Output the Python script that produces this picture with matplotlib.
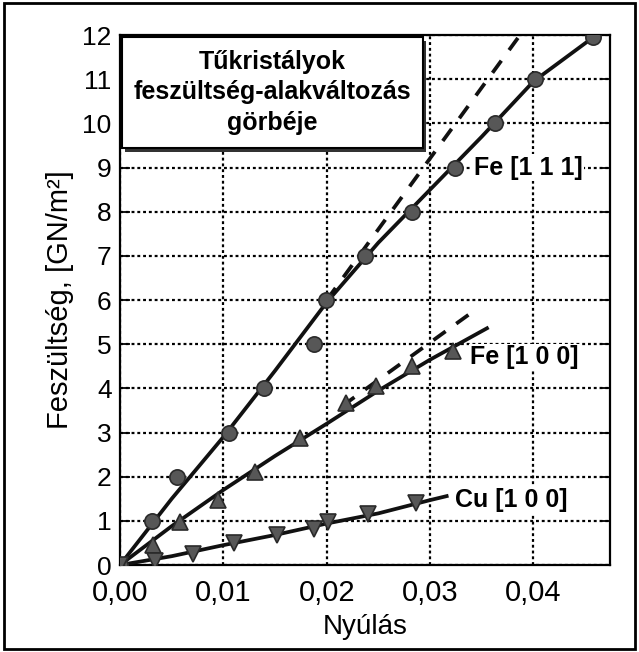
# -*- coding: utf-8 -*-
import matplotlib
matplotlib.use('Agg')
import matplotlib.pyplot as plt
from matplotlib.patches import Rectangle
from matplotlib.ticker import FuncFormatter

plt.rcParams['font.family'] = ['Liberation Sans', 'DejaVu Sans']

# Fe [1 1 1] - meresi pontok
fe111_x = [0, 0.0031, 0.0055, 0.0105, 0.0139, 0.0188, 0.0199, 0.0237, 0.0282, 0.0324, 0.0363, 0.0401, 0.0458]
fe111_y = [0, 1, 2, 3, 4, 5, 6, 7, 8, 9, 10, 11, 11.95]
# Fe [1 1 1] - illesztett gorbe es rugalmas egyenes
fe111_line_x = [0, 0.005, 0.01, 0.015, 0.02, 0.025, 0.03, 0.035, 0.04, 0.0455]
fe111_line_y = [0, 1.5, 2.9, 4.4, 5.95, 7.3, 8.5, 9.7, 10.95, 11.9]
fe111_dash_x = [0.020, 0.0387]
fe111_dash_y = [6.0, 12.0]

# Fe [1 0 0]
fe100_x = [0, 0.0032, 0.0058, 0.0095, 0.0131, 0.0174, 0.0219, 0.0248, 0.0282, 0.0322]
fe100_y = [0, 0.45, 0.98, 1.47, 2.11, 2.87, 3.66, 4.05, 4.5, 4.85]
fe100_line_x = [0, 0.005, 0.01, 0.015, 0.02, 0.025, 0.03, 0.0355]
fe100_line_y = [0, 0.88, 1.7, 2.47, 3.2, 3.95, 4.65, 5.36]
fe100_dash_x = [0.0215, 0.0338]
fe100_dash_y = [3.6, 5.68]

# Cu [1 0 0]
cu100_x = [0, 0.0034, 0.0071, 0.011, 0.0152, 0.0188, 0.0201, 0.024, 0.0286]
cu100_y = [0, 0.08, 0.26, 0.49, 0.68, 0.81, 0.98, 1.15, 1.40]
cu100_line_x = [0, 0.005, 0.01, 0.015, 0.02, 0.025, 0.03, 0.0316]
cu100_line_y = [0, 0.2, 0.45, 0.68, 0.94, 1.17, 1.47, 1.56]

xticks = [0, 0.01, 0.02, 0.03, 0.04]
yticks = list(range(0, 13))

fig = plt.figure(figsize=(6.39, 6.52), dpi=100)
ax = fig.add_axes([0.1878, 0.1334, 0.7668, 0.8129])

# racsvonalak
ax.grid(True, color='black', linestyle=(0, (1.3, 1.3)), linewidth=1.6, zorder=1)
ax.set_axisbelow(True)

mk = dict(mfc='#575757', mec='#2a2a2a', mew=1.2, linestyle='none', zorder=4)
ax.plot(fe111_line_x, fe111_line_y, color='#111111', lw=2.7, zorder=3)
ax.plot(fe111_dash_x, fe111_dash_y, color='#111111', lw=2.7, linestyle=(0, (4, 3.5)), zorder=3)
ax.plot(fe111_x, fe111_y, 'o', ms=11, **mk)

ax.plot(fe100_line_x, fe100_line_y, color='#111111', lw=2.7, zorder=3)
ax.plot(fe100_dash_x, fe100_dash_y, color='#111111', lw=2.7, linestyle=(0, (4, 3.5)), zorder=3)
ax.plot(fe100_x, fe100_y, '^', ms=12, **mk)

ax.plot(cu100_line_x, cu100_line_y, color='#111111', lw=2.7, zorder=3)
ax.plot(cu100_x, cu100_y, 'v', ms=12, **mk)

lbl = dict(fontsize=18, fontweight='bold', va='center', ha='left', zorder=5,
           bbox=dict(facecolor='white', edgecolor='none', pad=1))
ax.text(0.0342, 9.0, 'Fe [1 1 1]', **lbl)
ax.text(0.0339, 4.7, 'Fe [1 0 0]', **lbl)
ax.text(0.0324, 1.47, 'Cu [1 0 0]', **lbl)

# cimdoboz arnyekkal
ax.add_patch(Rectangle((0.011, 0.779), 0.614, 0.209, transform=ax.transAxes,
                       facecolor='#333333', edgecolor='none', zorder=6, clip_on=False))
ax.add_patch(Rectangle((0.004, 0.787), 0.614, 0.209, transform=ax.transAxes,
                       facecolor='white', edgecolor='black', lw=1.5, zorder=7, clip_on=False))
ax.text(0.311, 0.892, 'Tűkristályok\nfeszültség-alakváltozás\ngörbéje', transform=ax.transAxes,
        ha='center', va='center', fontsize=18, fontweight='bold', linespacing=1.35, zorder=8)

ax.set_xlim(0, 0.0474)
ax.set_ylim(0, 12)
ax.set_xticks(xticks)
ax.set_yticks(yticks)
ax.xaxis.set_major_formatter(FuncFormatter(lambda v, p: ('%.2f' % v).replace('.', ',')))
ax.tick_params(axis='y', direction='in', length=7, width=1.3, labelsize=19, pad=6, right=True)
ax.tick_params(axis='x', direction='in', length=0, labelsize=21, pad=10)
for s in ax.spines.values():
    s.set_linewidth(1.6)

ax.set_xlabel('Nyúlás', fontsize=20, labelpad=5)
ax.set_ylabel('Feszültség, [GN/m²]', fontsize=21, labelpad=6)

# kulso keret
fig.patches.append(Rectangle((0.006, 0.005), 0.988, 0.99, transform=fig.transFigure,
                             fill=False, edgecolor='black', lw=2))

plt.savefig('out.png', dpi=100)
